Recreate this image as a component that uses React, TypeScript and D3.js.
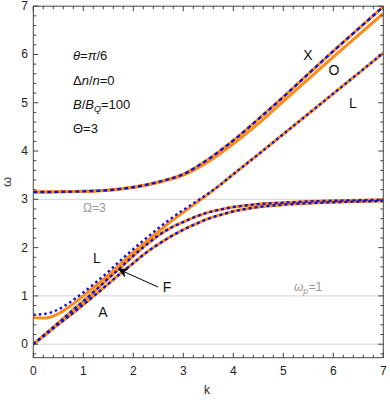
import React from 'react';
import * as d3 from 'd3';

// upper branch: X (both models) and O (orange model only)
const kUp = [0, 0.5, 1, 1.5, 2, 2.5, 3, 3.5, 4, 4.5, 5, 5.5, 6, 6.5, 7];
const wX = [3.15, 3.155, 3.165, 3.19, 3.25, 3.36, 3.52, 3.83, 4.22, 4.66, 5.12, 5.6, 6.07, 6.53, 6.99];
const wO = [3.15, 3.155, 3.165, 3.19, 3.25, 3.35, 3.5, 3.78, 4.15, 4.57, 5.03, 5.49, 5.95, 6.4, 6.85];

// lower branches
const kLow = [0, 0.25, 0.5, 0.75, 1, 1.25, 1.5, 1.75, 2, 2.25, 2.5, 2.75, 3, 3.25, 3.5, 3.75, 4, 4.5, 5, 5.5, 6, 6.5, 7];
const wLBlue = [0.61, 0.63, 0.72, 0.88, 1.07, 1.28, 1.5, 1.74, 1.97, 2.19, 2.4, 2.6, 2.78, 2.95, 3.12, 3.31, 3.52, 3.93, 4.35, 4.77, 5.19, 5.61, 6.03];
const wLOrange = [0.55, 0.54, 0.63, 0.8, 1.0, 1.21, 1.43, 1.67, 1.9, 2.12, 2.33, 2.54, 2.73, 2.92, 3.11, 3.31, 3.52, 3.93, 4.35, 4.77, 5.19, 5.61, 6.03];
const wF = [0, 0.22, 0.44, 0.67, 0.89, 1.12, 1.36, 1.59, 1.83, 2.05, 2.25, 2.41, 2.53, 2.64, 2.73, 2.79, 2.84, 2.9, 2.93, 2.955, 2.97, 2.98, 2.99];
const wA = [0, 0.2, 0.41, 0.61, 0.82, 1.03, 1.25, 1.47, 1.68, 1.89, 2.07, 2.23, 2.37, 2.49, 2.6, 2.68, 2.75, 2.84, 2.89, 2.92, 2.94, 2.955, 2.965];

const gridLevels = [0, 1, 3];
const xTicks = [0, 1, 2, 3, 4, 5, 6, 7];
const yTicks = [0, 1, 2, 3, 4, 5, 6, 7];

const ORANGE = '#ff8c1a';
const BLUE = '#1010d0';
const FONT = 'Liberation Sans, Arial, sans-serif';

const x = d3.scaleLinear().domain([0, 7]).range([33.3, 383.3]);
const y = d3.scaleLinear().domain([-0.28, 7]).range([357.7, 6.2]);

const zip = (ks: number[], ws: number[]) => ks.map((k, i) => [k, ws[i]] as [number, number]);

const line = d3.line<[number, number]>()
    .x(d => x(d[0]))
    .y(d => y(d[1]))
    .curve(d3.curveMonotoneX);

const orangeCurves = [zip(kUp, wX), zip(kUp, wO), zip(kLow, wLOrange), zip(kLow, wF), zip(kLow, wA)];
const blueCurves = [
    { pts: zip(kUp, wX), dash: '4,3' },
    { pts: zip(kLow, wLBlue), dash: '2.5,3' },
    { pts: zip(kLow, wF), dash: '3,3' },
    { pts: zip(kLow, wA), dash: '3,3' },
];

export default function App() {
    const [x0, x1] = x.range();
    const [yb, yt] = y.range();
    const minorX = d3.range(0, 7.001, 0.2);
    const minorY = d3.range(-0.2, 7.001, 0.2);
    const axisCol = '#444';
    const yMid = (yb + yt) / 2;

    return (
        <svg width={390} height={401} style={{ position: 'absolute', left: 0, top: 0, background: '#fff' }}
            fontFamily={FONT}>
            <defs>
                <clipPath id="plot">
                    <rect x={x0} y={yt} width={x1 - x0} height={yb - yt} />
                </clipPath>
                <marker id="head" viewBox="0 0 10 10" refX="10" refY="5" markerWidth="16" markerHeight="10"
                    markerUnits="userSpaceOnUse" orient="auto">
                    <path d="M0,0 L10,5 L0,10 L3,5 Z" fill="#000" />
                </marker>
            </defs>

            {gridLevels.map(g => (
                <line key={g} x1={x0} x2={x1} y1={y(g)} y2={y(g)} stroke="#d4d4d4" strokeWidth={1} />
            ))}

            <g clipPath="url(#plot)" fill="none">
                {orangeCurves.map((c, i) => (
                    <path key={i} d={line(c) || ''} stroke={ORANGE} strokeWidth={3} />
                ))}
                {blueCurves.map((c, i) => (
                    <path key={i} d={line(c.pts) || ''} stroke={BLUE} strokeWidth={2.4} strokeDasharray={c.dash} />
                ))}
            </g>

            {/* frame */}
            <rect x={x0} y={yt} width={x1 - x0} height={yb - yt} fill="none" stroke={axisCol} strokeWidth={1} />
            {minorX.map(t => {
                const major = Math.abs(t - Math.round(t)) < 1e-6;
                const len = major ? 5 : 3;
                return (
                    <g key={'x' + t} stroke={axisCol}>
                        <line x1={x(t)} x2={x(t)} y1={yb} y2={yb - len} />
                        <line x1={x(t)} x2={x(t)} y1={yt} y2={yt + len} />
                    </g>
                );
            })}
            {minorY.map(t => {
                const major = Math.abs(t - Math.round(t)) < 1e-6;
                const len = major ? 5 : 3;
                return (
                    <g key={'y' + t} stroke={axisCol}>
                        <line x1={x0} x2={x0 + len} y1={y(t)} y2={y(t)} />
                        <line x1={x1} x2={x1 - len} y1={y(t)} y2={y(t)} />
                    </g>
                );
            })}
            {xTicks.map(t => (
                <text key={'xl' + t} x={x(t)} y={yb + 17} fontSize={12} textAnchor="middle" fill="#222">{t}</text>
            ))}
            {yTicks.map(t => (
                <text key={'yl' + t} x={28} y={y(t) + 4} fontSize={12} textAnchor="end" fill="#222">{t}</text>
            ))}
            <text x={207} y={394} fontSize={12} textAnchor="middle" fill="#222">k</text>
            <text x={11} y={yMid} fontSize={13} textAnchor="middle" fill="#333"
                transform={`rotate(-90, 11, ${yMid})`}>ω</text>

            {/* reference lines labels */}
            <text x={83} y={212} fontSize={12} fill="#999">Ω=3</text>
            <text x={294} y={291} fontSize={12} fill="#999">
                <tspan fontStyle="italic">ω</tspan>
                <tspan fontStyle="italic" fontSize={9} dy={3}>p</tspan>
                <tspan dy={-3}>=1</tspan>
            </text>

            {/* parameters */}
            <g fontSize={13} fill="#111">
                <text x={73} y={60}>
                    <tspan fontStyle="italic">θ</tspan>=<tspan fontStyle="italic">π</tspan>/6
                </text>
                <text x={73} y={85}>
                    Δ<tspan fontStyle="italic">n</tspan>/<tspan fontStyle="italic">n</tspan>=0
                </text>
                <text x={73} y={109}>
                    <tspan fontStyle="italic">B</tspan>/<tspan fontStyle="italic">B</tspan>
                    <tspan fontStyle="italic" fontSize={9} dy={3}>Q</tspan>
                    <tspan dy={-3}>=100</tspan>
                </text>
                <text x={73} y={133}>Θ=3</text>
            </g>

            {/* mode labels */}
            <g fontSize={14} fill="#111" textAnchor="middle">
                <text x={308} y={60}>X</text>
                <text x={334} y={75}>O</text>
                <text x={353} y={108}>L</text>
                <text x={97} y={263}>L</text>
                <text x={103} y={317}>A</text>
                <text x={167} y={292}>F</text>
            </g>
            <line x1={158} y1={287} x2={118} y2={269} stroke="#000" strokeWidth={1} markerEnd="url(#head)" />
        </svg>
    );
}
